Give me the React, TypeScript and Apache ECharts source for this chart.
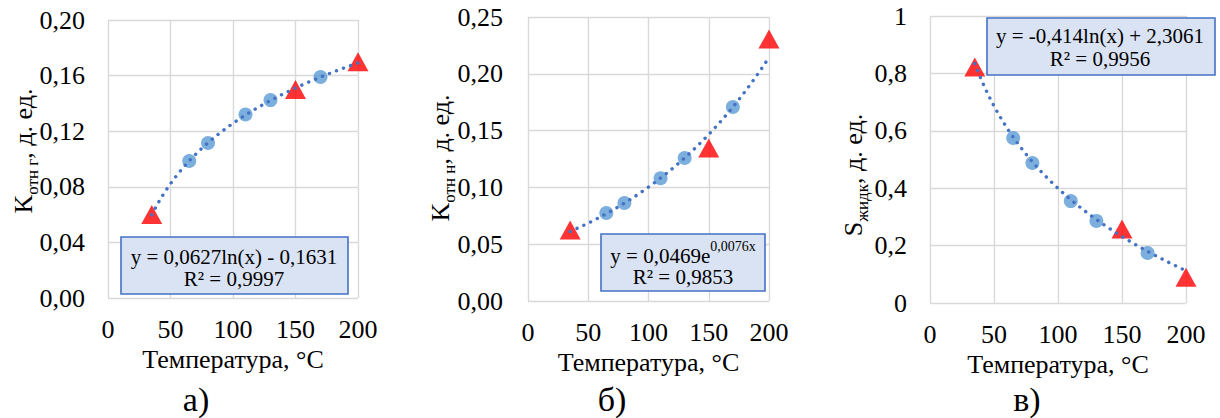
import React, { useEffect, useRef } from "react";
import * as echarts from "echarts";

const FONT = "'Liberation Serif', 'Times New Roman', serif";

// Temperatures, °C
const tempCircles = [65, 80, 110, 130, 170];
const tempTriangles = [35, 150, 200];

// а) relative gas permeability, fraction
const kGasCircles = [0.0986, 0.1115, 0.132, 0.1424, 0.159];
const kGasTriangles = [0.06, 0.15, 0.17];
const kGasFit = { a: 0.0627, b: -0.1631 }; // y = a·ln(x) + b

// б) relative oil permeability, fraction
const kOilCircles = [0.0775, 0.0863, 0.108, 0.1259, 0.1708];
const kOilTriangles = [0.0625, 0.1347, 0.2306];
const kOilFit = { a: 0.0469, k: 0.0076 }; // y = a·e^(k·x)

// в) liquid saturation, fraction
const sLiqCircles = [0.575, 0.488, 0.355, 0.286, 0.174];
const sLiqTriangles = [0.822, 0.258, 0.09];
const sLiqFit = { a: -0.414, b: 2.3061 }; // y = a·ln(x) + b

const fitRange = [35, 200];

const xTitle = "Температура, °C";
const captions = ["а)", "б)", "в)"];

const pairs = (xs: number[], ys: number[]) => xs.map((x, i) => [x, ys[i]]);

const fitLine = (f: (x: number) => number) => {
  const pts: number[][] = [];
  for (let x = fitRange[0]; x <= fitRange[1]; x += 1) pts.push([x, f(x)]);
  return pts;
};

const comma = (v: number, d: number) => v.toFixed(d).replace(".", ",");

export default function App() {
  const ref = useRef<HTMLDivElement>(null);

  useEffect(() => {
    if (!ref.current) return;
    const chart = echarts.init(ref.current, null, { renderer: "svg" });

    const grids = [
      { left: 108, top: 20, width: 250, height: 278 },
      { left: 528, top: 17, width: 241, height: 284 },
      { left: 930, top: 16, width: 256, height: 287 },
    ];
    const xNameGaps = [46, 43, 42];
    const yLabelMargins = [23, 25, 23];
    const yScales = [
      { max: 0.2, interval: 0.04, fmt: (v: number) => comma(v, 2) },
      { max: 0.25, interval: 0.05, fmt: (v: number) => comma(v, 2) },
      { max: 1, interval: 0.2, fmt: (v: number) => String(+v.toFixed(2)).replace(".", ",") },
    ];

    const gridLine = { show: true, lineStyle: { color: "#D9D9D9", width: 1.4 } };
    const tickText = { fontSize: 26, color: "#000", fontFamily: FONT };

    const xAxis = grids.map((_, i) => ({
      type: "value",
      gridIndex: i,
      min: 0,
      max: 200,
      interval: 50,
      axisLine: { show: false },
      axisTick: { show: false },
      splitLine: gridLine,
      axisLabel: { ...tickText, margin: 18 },
      name: xTitle,
      nameLocation: "middle",
      nameGap: xNameGaps[i],
      nameTextStyle: { fontSize: 26, color: "#000", fontFamily: FONT },
    }));

    const yAxis = grids.map((_, i) => ({
      type: "value",
      gridIndex: i,
      min: 0,
      max: yScales[i].max,
      interval: yScales[i].interval,
      axisLine: { show: false },
      axisTick: { show: false },
      splitLine: gridLine,
      axisLabel: { ...tickText, margin: yLabelMargins[i], formatter: yScales[i].fmt },
    }));

    const circleSets = [kGasCircles, kOilCircles, sLiqCircles];
    const triangleSets = [kGasTriangles, kOilTriangles, sLiqTriangles];
    const fits = [
      (x: number) => kGasFit.a * Math.log(x) + kGasFit.b,
      (x: number) => kOilFit.a * Math.exp(kOilFit.k * x),
      (x: number) => sLiqFit.a * Math.log(x) + sLiqFit.b,
    ];

    const series: any[] = [];
    grids.forEach((_, i) => {
      series.push({
        type: "scatter",
        xAxisIndex: i,
        yAxisIndex: i,
        symbol: "circle",
        symbolSize: 14,
        itemStyle: { color: "#5B9BD5" },
        data: pairs(tempCircles, circleSets[i]),
        z: 2,
      });
      series.push({
        type: "scatter",
        xAxisIndex: i,
        yAxisIndex: i,
        symbol: "triangle",
        symbolSize: [21, 19],
        itemStyle: { color: "#FF0000" },
        data: pairs(tempTriangles, triangleSets[i]),
        z: 3,
      });
      series.push({
        type: "line",
        xAxisIndex: i,
        yAxisIndex: i,
        showSymbol: false,
        symbol: "none",
        data: fitLine(fits[i]),
        lineStyle: { color: "#4472C4", width: 3.4, type: [0.1, 7.4], cap: "round" },
        z: 4,
      });
    });

    const eqFill = "#DAE3F3";
    const eqStroke = "#4472C4";
    const eqText = (x: number, y: number, text: string) => ({
      type: "text",
      x,
      y,
      z: 101,
      style: { text, fontSize: 21, fontFamily: FONT, fill: "#000", align: "center", verticalAlign: "middle" },
    });
    const eqBox = (x: number, y: number, w: number, h: number) => ({
      type: "rect",
      z: 100,
      shape: { x, y, width: w, height: h },
      style: { fill: eqFill, stroke: eqStroke, lineWidth: 1.6 },
    });

    const yTitle = (x: number, y: number, main: string, sub: string) => ({
      type: "text",
      x,
      y,
      rotation: Math.PI / 2,
      z: 100,
      style: {
        text: `{m|${main}}{s|${sub}}{m|, д. ед.}`,
        align: "center",
        verticalAlign: "middle",
        rich: {
          m: { fontSize: 26, fontFamily: FONT, fill: "#000", lineHeight: 36, verticalAlign: "middle" },
          s: { fontSize: 17, fontFamily: FONT, fill: "#000", lineHeight: 20, verticalAlign: "bottom" },
        },
      },
    });

    const captionText = (x: number, text: string) => ({
      type: "text",
      x,
      y: 399,
      style: { text, fontSize: 34, fontFamily: FONT, fill: "#000", align: "center", verticalAlign: "middle" },
    });

    const graphic: any[] = [
      yTitle(23, 151, "K", "отн г"),
      yTitle(440, 158, "K", "отн н"),
      yTitle(853, 175, "S", "жидк"),

      eqBox(121, 237, 227, 57),
      eqText(234, 256.5, `y = ${comma(kGasFit.a, 4)}ln(x) - ${comma(-kGasFit.b, 4)}`),
      eqText(234, 279, "R² = 0,9997"),

      eqBox(601, 234, 164, 57),
      {
        type: "text",
        x: 683,
        y: 255.5,
        z: 101,
        style: {
          text: `{m|y = ${comma(kOilFit.a, 4)}e}{p|${comma(kOilFit.k, 4)}x}`,
          align: "center",
          verticalAlign: "middle",
          rich: {
            m: { fontSize: 21, fontFamily: FONT, fill: "#000", lineHeight: 32, verticalAlign: "middle" },
            p: { fontSize: 14, fontFamily: FONT, fill: "#000", lineHeight: 12, verticalAlign: "top" },
          },
        },
      },
      eqText(683, 277, "R² = 0,9853"),

      eqBox(987, 18, 228, 57),
      eqText(1100, 35.5, `y = ${comma(sLiqFit.a, 3)}ln(x) + ${comma(sLiqFit.b, 4)}`),
      eqText(1100, 59, "R² = 0,9956"),

      captionText(196, captions[0]),
      captionText(612, captions[1]),
      captionText(1027, captions[2]),
    ];

    chart.setOption({
      animation: false,
      textStyle: { fontFamily: FONT },
      grid: grids,
      xAxis,
      yAxis,
      series,
      graphic,
    });

    return () => chart.dispose();
  }, []);

  return (
    <>
      <style>{`.serif-charts text { font-family: 'Liberation Serif', 'Times New Roman', serif !important; }`}</style>
      <div
        ref={ref}
        className="serif-charts"
        style={{ position: "fixed", left: 0, top: 0, width: 1220, height: 418, background: "#fff" }}
      />
    </>
  );
}
